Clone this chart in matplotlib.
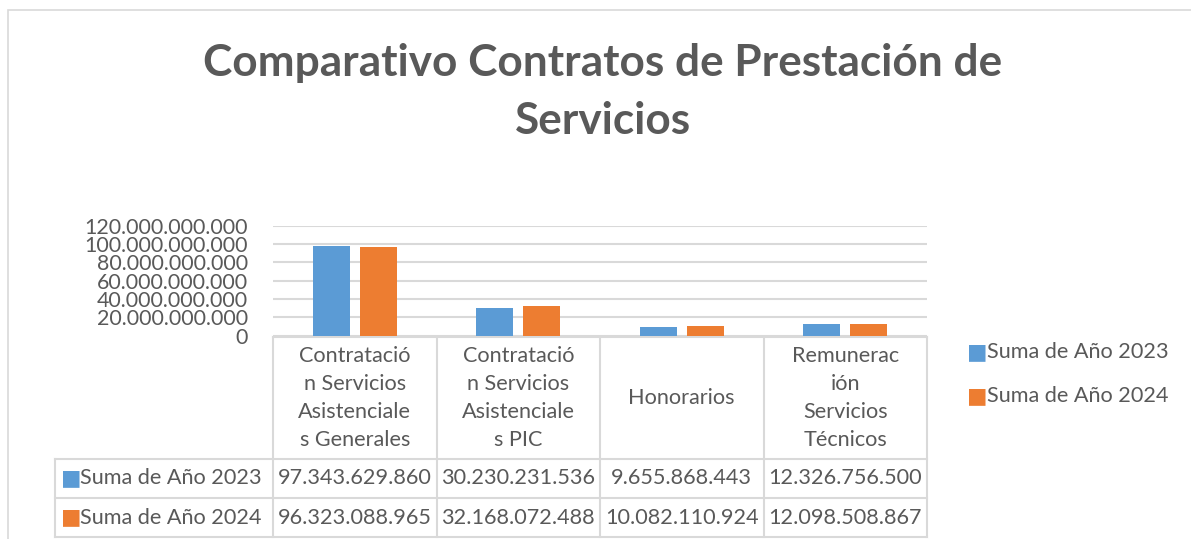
import matplotlib
matplotlib.use("Agg")
import matplotlib.pyplot as plt
from matplotlib.patches import Rectangle
from matplotlib.lines import Line2D
import matplotlib.transforms as mtransforms

# ---- data ----
categories = [
    "Contratació\nn Servicios\nAsistenciale\ns Generales",
    "Contratació\nn Servicios\nAsistenciale\ns PIC",
    "Honorarios",
    "Remunerac\nión\nServicios\nTécnicos",
]
series_names = ["Suma de Año 2023", "Suma de Año 2024"]
values_2023 = [97343629860, 30230231536, 9655868443, 12326756500]
values_2024 = [96323088965, 32168072488, 10082110924, 12098508867]
y_ticks = [0, 20e9, 40e9, 60e9, 80e9, 100e9, 120e9]

colors = ["#5B9BD5", "#ED7D31"]
text_color = "#595959"
grid_color = "#D9D9D9"
FONT = "Lato"

plt.rcParams["font.family"] = [FONT, "DejaVu Sans"]

W, H = 1191, 539
fig = plt.figure(figsize=(W / 100, H / 100), dpi=100)

# outer chart border
fig.patches.append(Rectangle((8 / W, -0.1), 1.2, (H - 10) / H + 0.1,
                             transform=fig.transFigure, fill=False,
                             edgecolor=grid_color, linewidth=1.2))

# plot area in pixels
x0, x1 = 273, 927
ytop, ybot = 225.7, 335.5
ax = fig.add_axes([x0 / W, (H - ybot) / H, (x1 - x0) / W, (ybot - ytop) / H])

def fmt(v):
    return f"{int(round(v)):,}".replace(",", ".")

n = len(categories)
xs = list(range(n))
bw = 0.226
off = 0.1435
ax.bar([x - off for x in xs], values_2023, width=bw, color=colors[0], zorder=3)
ax.bar([x + off for x in xs], values_2024, width=bw, color=colors[1], zorder=3)

fs = 15.6
ax.set_xlim(-0.5, n - 0.5)
ax.set_ylim(0, 120e9)
ax.set_yticks(y_ticks)
ax.set_yticklabels([fmt(v) for v in y_ticks], fontsize=15.4, color=text_color)
ax.tick_params(axis="y", length=0, pad=18)
ax.set_xticks([])
ax.yaxis.grid(True, color=grid_color, linewidth=1.5, zorder=0)
for s in ax.spines.values():
    s.set_visible(False)

# ---- data table ----
trans = mtransforms.blended_transform_factory(ax.transData, ax.transAxes)
ph = ybot - ytop
colw = (x1 - x0) / n
def yfrac(pix):
    return (ybot - pix) / ph

y_head_top = yfrac(337)
y_head_bot = yfrac(459)
y_r1_bot = yfrac(498)
y_r2_bot = yfrac(537)
x_left = -0.5 - (273 - 55) / colw

lw = 1.5
def line(xa, xb, ya, yb):
    ax.add_line(Line2D([xa, xb], [ya, yb], transform=trans, color=grid_color,
                       linewidth=lw, clip_on=False))

line(-0.5, n - 0.5, y_head_top, y_head_top)
for yy in (y_head_bot, y_r1_bot, y_r2_bot):
    line(x_left, n - 0.5, yy, yy)
line(x_left, x_left, y_head_bot, y_r2_bot)
for i in range(n + 1):
    line(i - 0.5, i - 0.5, y_head_top, y_r2_bot)

for i, c in enumerate(categories):
    ax.text(i, (y_head_top + y_head_bot) / 2, c, transform=trans, ha="center",
            va="center", fontsize=fs, color=text_color, linespacing=1.5,
            clip_on=False)

rows = [values_2023, values_2024]
row_ys = [(y_head_bot + y_r1_bot) / 2, (y_r1_bot + y_r2_bot) / 2]
for r, (vals, yy) in enumerate(zip(rows, row_ys)):
    for i, v in enumerate(vals):
        ax.text(i, yy, fmt(v), transform=trans, ha="center", va="center",
                fontsize=fs, color=text_color, clip_on=False)
    kx = x_left + 6 / colw
    ax.text(kx, yy, "■", transform=trans, ha="left", va="center",
            fontsize=fs, color=colors[r], family="DejaVu Sans", clip_on=False)
    ax.text(kx + 19 / colw, yy, series_names[r], transform=trans,
            ha="left", va="center", fontsize=fs, color=text_color, clip_on=False)

# ---- legend ----
for r, name in enumerate(series_names):
    ly = 352 + r * 44
    fig.text(967 / W, 1 - ly / H, "■", ha="left", va="center", fontsize=fs,
             color=colors[r], family="DejaVu Sans")
    fig.text(987 / W, 1 - ly / H, name, ha="left", va="center", fontsize=fs,
             color=text_color)

# ---- title ----
fig.text(603 / W, 1 - 92 / H, "Comparativo Contratos de Prestación de\nServicios",
         ha="center", va="center", fontsize=31.8, fontweight="bold",
         color=text_color, linespacing=1.55)

fig.savefig("out.png", dpi=100)
